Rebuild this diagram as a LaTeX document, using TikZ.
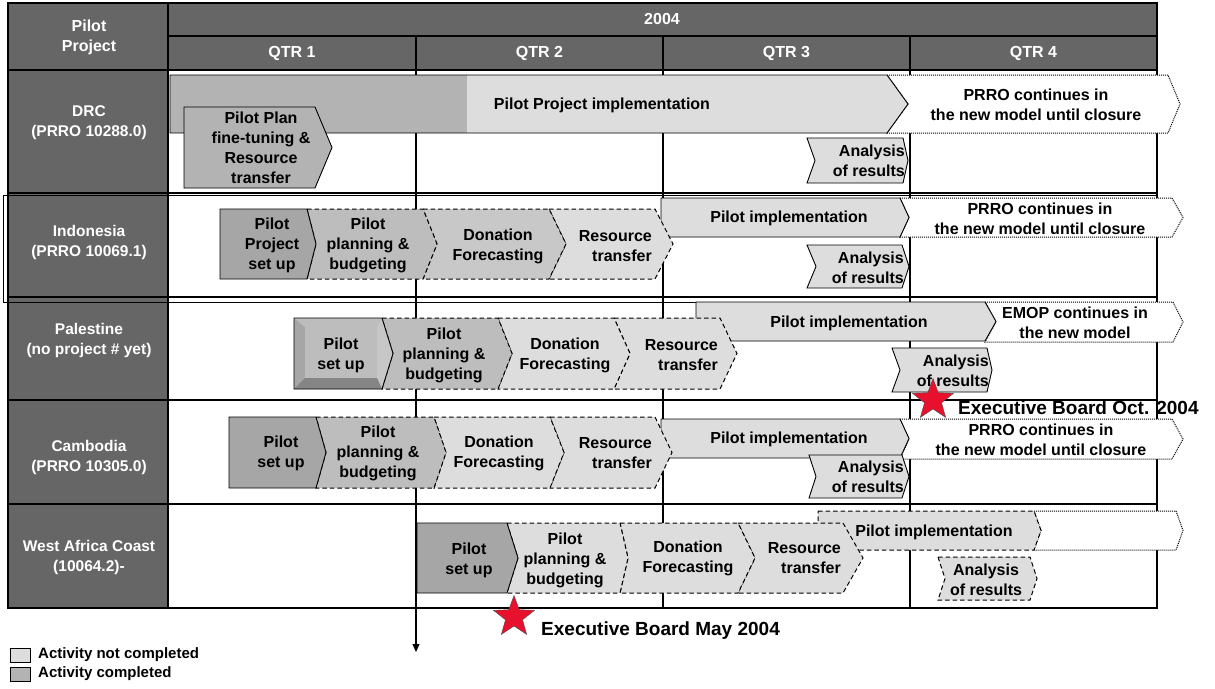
\documentclass[tikz,border=0pt]{standalone}
\usepackage{fontspec}
\setmainfont{Liberation Sans}
\usetikzlibrary{shapes.geometric,arrows.meta}
\definecolor{hdrgray}{HTML}{666666}
\definecolor{donegray}{HTML}{A6A6A6}
\definecolor{midgray}{HTML}{B3B3B3}
\definecolor{plangray}{HTML}{BDBDBD}
\definecolor{fcgray}{HTML}{C8C8C8}
\definecolor{opengray}{HTML}{DDDDDD}
\definecolor{starred}{HTML}{E8112D}
% chevron: style, left, notch, right, tip, top, bottom
\newcommand{\chev}[7]{%
  \path[#1] (#2,#6) -- (#4,#6) -- (#5,{(#6+#7)/2}) -- (#4,#7) -- (#2,#7) -- (#3,{(#6+#7)/2}) -- cycle;}

\begin{document}
\begin{tikzpicture}[x=1pt,y=-1pt,
    txt/.style={font=\bfseries\fontsize{16}{20}\selectfont,align=center,inner sep=0pt},
    hdr/.style={txt,text=white},
    side/.style={hdr,font=\bfseries\fontsize{15.5}{20}\selectfont},
    rtxt/.style={txt,align=right,anchor=east},
    grid/.style={line width=1.3pt},
    done/.style={draw,line width=0.9pt,fill=donegray},
    open/.style={draw,line width=0.9pt,fill=opengray},
    todo/.style={draw,line width=1pt,dash pattern=on 4.5pt off 3pt,fill=opengray},
    later/.style={draw,line width=1pt,dash pattern=on 1pt off 1pt,fill=white},
    eb/.style={font=\bfseries\fontsize{19}{22}\selectfont,anchor=west,inner sep=0pt},
    redstar/.style={star,star points=5,star point ratio=2.4,fill=starred,draw=black!70,
      line width=0.4pt,minimum size=43pt,inner sep=0pt},
    key/.style={draw,line width=0.6pt,minimum width=20pt,minimum height=14pt,inner sep=0pt},
    keytxt/.style={font=\bfseries\fontsize{15}{18}\selectfont,anchor=west,inner sep=0pt}]
  \useasboundingbox (0,0) rectangle (1215,688);
  \fill[white] (0,0) rectangle (1215,688);

  \fill[hdrgray] (8,3) rectangle (1157,70);
  \fill[hdrgray] (8,70) rectangle (168,608);
  \draw[line width=0.6pt] (3,195) rectangle (1157,302);
  \draw[grid] (8,3) rectangle (1157,608);
  \draw[grid] (168,36) -- (1157,36);
  \draw[grid] (8,70) -- (1157,70);
  \foreach \y in {193,297,400,504}
    \draw[grid] (8,\y) -- (1157,\y);
  \draw[grid] (168,3) -- (168,608);
  \foreach \x in {416,663,910}
    \draw[grid] (\x,36) -- (\x,608);

  \node[hdr] (hPilot) at (89,37) {Pilot\\Project};
  \node[hdr] (hYear) at (662,19) {2004};
  \node[hdr] (hQ1) at (292,53) {QTR 1};
  \node[hdr] (hQ2) at (539.5,53) {QTR 2};
  \node[hdr] (hQ3) at (786.5,53) {QTR 3};
  \node[hdr] (hQ4) at (1033.5,53) {QTR 4};

  \node[side] (drc) at (89,123) {DRC\\(PRRO 10288.0)};
  \node[side] (ind) at (89,242) {Indonesia\\(PRRO 10069.1)};
  \node[side] (pal) at (89,340) {Palestine\\(no project \# yet)};
  \node[side] (cam) at (89,457) {Cambodia\\(PRRO 10305.0)};
  \node[side] (wac) at (89,557) {West Africa Coast\\(10064.2)-};

  \chev{later}{887}{908}{1168}{1180}{75}{133}
  \chev{fill=opengray}{170}{170}{887}{908}{75}{133}
  \fill[midgray] (170,75) rectangle (467,133);
  \chev{draw,line width=0.9pt}{170}{170}{887}{908}{75}{133}
  \chev{done,fill=midgray}{184}{184}{315}{332}{107}{188}
  \chev{open}{807}{815}{903}{908}{138}{183}
  \node[txt] (drcImpl) at (602,105) {Pilot Project implementation};
  \node[txt] (drcCont) at (1036,105) {PRRO continues in\\the new model until closure};
  \node[txt] (drcPlan) at (261,148) {Pilot Plan\\fine-tuning \&\\Resource\\transfer};
  \node[rtxt] (drcAnal) at (905,161) {Analysis\\of results};

  \chev{later}{900}{909}{1172}{1183}{198}{237}
  \chev{open}{661}{661}{900}{909}{198}{237}
  \chev{todo}{549}{566}{655}{673}{209}{279}
  \chev{todo,fill=fcgray}{423}{437}{549}{566}{209}{279}
  \chev{todo,fill=plangray}{307}{316}{423}{437}{209}{279}
  \chev{done}{220}{220}{307}{316}{209}{279}
  \chev{open}{807}{816}{902}{909}{245}{288}
  \node[txt] (indSetup) at (272,245) {Pilot\\Project\\set up};
  \node[txt] (indPlan) at (368,245) {Pilot\\planning \&\\budgeting};
  \node[txt] (indFcst) at (498,246) {Donation\\Forecasting};
  \node[rtxt] (indRes) at (652,246) {Resource\\transfer};
  \node[txt] (indImpl) at (789,218) {Pilot implementation};
  \node[txt] (indCont) at (1040,219) {PRRO continues in\\the new model until closure};
  \node[rtxt] (indAnal) at (904,268) {Analysis\\of results};

  \chev{later}{985}{996}{1173}{1183}{302}{342}
  \chev{open}{696}{696}{985}{996}{302}{341}
  \chev{todo}{614}{630}{720}{737}{318}{389}
  \chev{todo}{498}{512}{614}{630}{318}{389}
  \chev{todo,fill=plangray}{382}{393}{498}{512}{318}{389}
  \chev{fill=donegray}{294}{294}{382}{393}{318}{389}
  \fill[plangray] (294,318) -- (382,318) -- (377,327) -- (305,327) -- cycle;
  \fill[opengray!90!black] (377,327) -- (382,318) -- (393,353.5) -- (382,389) -- (377,378) -- cycle;
  \fill[donegray!80!black] (294,389) -- (382,389) -- (377,378) -- (305,378) -- cycle;
  \fill[plangray] (305,327) rectangle (377,378);
  \chev{draw,line width=0.9pt}{294}{294}{382}{393}{318}{389}
  \chev{open}{892}{900}{987}{992}{348}{392}
  \node[txt] (palSetup) at (341,355) {Pilot\\set up};
  \node[txt] (palPlan) at (444,355) {Pilot\\planning \&\\budgeting};
  \node[txt] (palFcst) at (565,355) {Donation\\Forecasting};
  \node[rtxt] (palRes) at (718,355) {Resource\\transfer};
  \node[txt] (palImpl) at (849,323) {Pilot implementation};
  \node[txt] (palCont) at (1075,323) {EMOP continues in\\the new model};
  \node[rtxt] (palAnal) at (989,371) {Analysis\\of results};

  \chev{later}{900}{909}{1172}{1183}{419}{459}
  \chev{open}{661}{661}{900}{909}{419}{458}
  \chev{todo}{550}{564}{655}{672}{417}{488}
  \chev{todo}{434}{446}{550}{564}{417}{488}
  \chev{todo,fill=plangray}{316}{326}{434}{446}{417}{488}
  \chev{done}{229}{229}{316}{326}{417}{488}
  \chev{open}{809}{816}{902}{909}{455}{498}
  \node[txt] (camSetup) at (281,453) {Pilot\\set up};
  \node[txt] (camPlan) at (378,453) {Pilot\\planning \&\\budgeting};
  \node[txt] (camFcst) at (499,453) {Donation\\Forecasting};
  \node[rtxt] (camRes) at (652,453) {Resource\\transfer};
  \node[txt] (camImpl) at (789,439) {Pilot implementation};
  \node[txt] (camCont) at (1041,440) {PRRO continues in\\the new model until closure};
  \node[rtxt] (camAnal) at (904,477) {Analysis\\of results};

  \chev{later}{1034}{1041}{1176}{1183}{511}{550}
  \chev{todo}{818}{818}{1034}{1041}{511}{550}
  \chev{todo}{738}{755}{843}{863}{523}{593}
  \chev{todo}{620}{628}{738}{755}{523}{593}
  \chev{todo}{507}{518}{620}{628}{523}{593}
  \chev{done}{417}{417}{507}{518}{523}{593}
  \chev{todo}{938}{945}{1030}{1037}{557}{600}
  \node[txt] (wacSetup) at (469,560) {Pilot\\set up};
  \node[txt] (wacPlan) at (565,560) {Pilot\\planning \&\\budgeting};
  \node[txt] (wacFcst) at (688,558) {Donation\\Forecasting};
  \node[rtxt] (wacRes) at (841,558) {Resource\\transfer};
  \node[txt] (wacImpl) at (934,532) {Pilot implementation};
  \node[txt] (wacAnal) at (986,580) {Analysis\\of results};

  \coordinate (arrTop) at (416,608);
  \coordinate (arrTip) at (416,652);
  \draw[line width=1.1pt,-{Triangle[width=7pt,length=8pt]}] (arrTop) -- (arrTip);

  \node[redstar] (starOct) at (933,400) {};
  \node[eb] (ebOct) at (958,408) {Executive Board Oct. 2004};
  \node[redstar] (starMay) at (514,617) {};
  \node[eb] (ebMay) at (541,631) {Executive Board May 2004};

  \node[key,fill=opengray] (keyOpen) at (20.5,655) {};
  \node[keytxt] (keyOpenTxt) at (38,655) {Activity not completed};
  \node[key,fill=midgray] (keyDone) at (20.5,674) {};
  \node[keytxt] (keyDoneTxt) at (38,674) {Activity completed};
\end{tikzpicture}
\end{document}
